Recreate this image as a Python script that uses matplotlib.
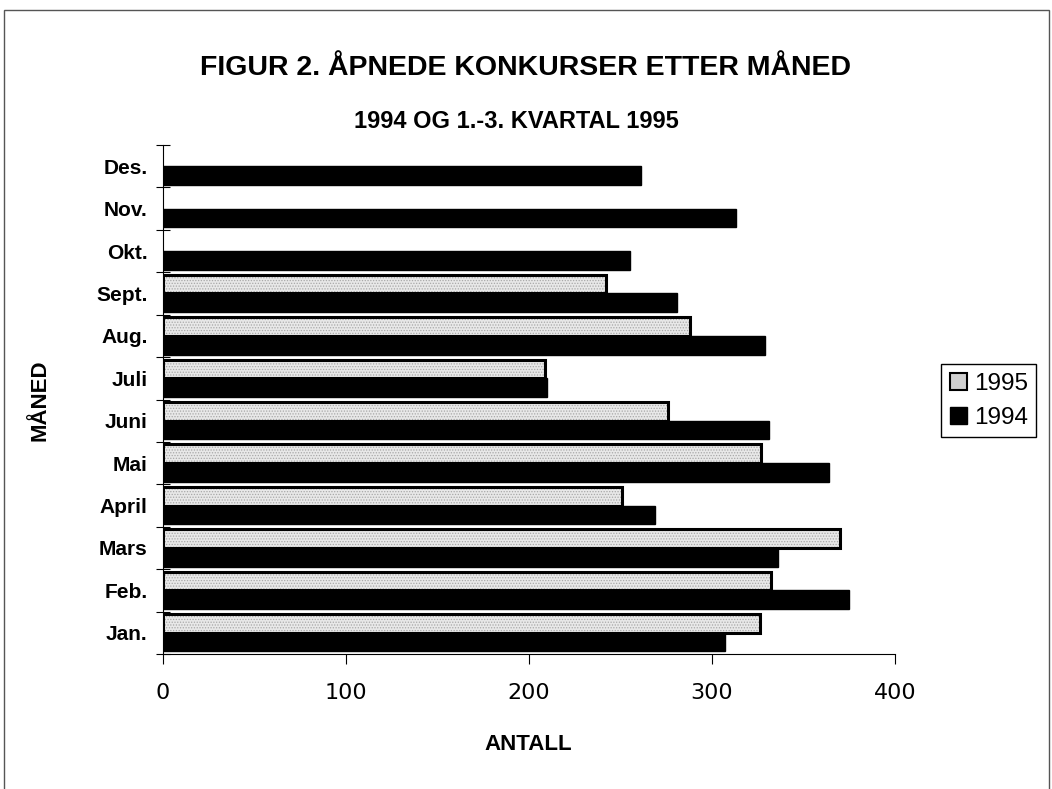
import numpy as np
import matplotlib.pyplot as plt
from matplotlib.patches import Patch, Rectangle

months = ['Jan.', 'Feb.', 'Mars', 'April', 'Mai', 'Juni',
          'Juli', 'Aug.', 'Sept.', 'Okt.', 'Nov.', 'Des.']
v1994 = [307, 375, 336, 269, 364, 331, 210, 329, 281, 255, 313, 261]
v1995 = [326, 332, 370, 251, 327, 276, 209, 288, 242, np.nan, np.nan, np.nan]
xticks = [0, 100, 200, 300, 400]

plt.rcParams['font.family'] = ['Liberation Sans', 'DejaVu Sans']
plt.rcParams['hatch.linewidth'] = 0.6

W, H = 1052, 789
fig = plt.figure(figsize=(W / 100, H / 100), dpi=100)
ax = fig.add_axes([163 / W, 1 - 654 / H, (895 - 163) / W, (654 - 145) / H])

y = np.arange(len(months))
h = 0.44
a95 = np.array(v1995, dtype=float)
ok = ~np.isnan(a95)

# 1995: stippled grey with a heavy black outline
ax.barh(y[ok] + h / 2, a95[ok], height=h, color='#e8e8e8', edgecolor='#a8a8a8',
        hatch='......', linewidth=0)
ax.barh(y[ok] + h / 2, a95[ok], height=h, facecolor='none', edgecolor='black',
        linewidth=2.2)
ax.barh(y - h / 2, v1994, height=h, color='black', edgecolor='black', linewidth=1)

ax.set_xlim(0, 400)
ax.set_ylim(-0.5, len(months) - 0.5)
ax.set_xticks(xticks)
ax.set_xticklabels([str(t) for t in xticks], fontsize=16, family=['DejaVu Sans'])
ax.tick_params(axis='x', direction='out', length=7, width=0.8, pad=14)

ax.set_yticks(np.arange(-0.5, len(months), 1.0))
ax.set_yticklabels([])
ax.set_yticks(y, minor=True)
ax.set_yticklabels(months, minor=True, fontsize=15, fontweight='bold')
ax.tick_params(axis='y', which='major', direction='inout', length=10, width=0.8)
ax.tick_params(axis='y', which='minor', length=0, pad=11)

for s in ['top', 'right']:
    ax.spines[s].set_visible(False)
for s in ['left', 'bottom']:
    ax.spines[s].set_linewidth(0.8)

fig.text(526 / W, 1 - 68 / H, 'FIGUR 2. ÅPNEDE KONKURSER ETTER MÅNED',
         ha='center', va='center', fontsize=20.5, fontweight='bold')
fig.text(516 / W, 1 - 121 / H, '1994 OG 1.-3. KVARTAL 1995',
         ha='center', va='center', fontsize=17, fontweight='bold')
fig.text(528 / W, 1 - 745 / H, 'ANTALL', ha='center', va='center',
         fontsize=16, fontweight='bold')
fig.text(40 / W, 1 - 400 / H, 'MÅNED', ha='center', va='center',
         fontsize=16, fontweight='bold', rotation=90)

handles = [Patch(facecolor='#d0d0d0', edgecolor='black', linewidth=1.5, label='1995'),
           Patch(facecolor='black', edgecolor='black', label='1994')]
fig.legend(handles=handles, loc='upper left',
           bbox_to_anchor=(941 / W, 1 - 364 / H), fontsize=17.5,
           frameon=True, fancybox=False, edgecolor='black', framealpha=1,
           handlelength=0.7, handleheight=0.7, handletextpad=0.3,
           borderpad=0.35, labelspacing=0.5, borderaxespad=0)

fig.patches.append(Rectangle((4 / W, -0.01), (1049 - 4) / W, 1.01 - 10 / H,
                             transform=fig.transFigure, fill=False,
                             edgecolor='#555555', linewidth=1))

fig.savefig('out.png', dpi=100)
